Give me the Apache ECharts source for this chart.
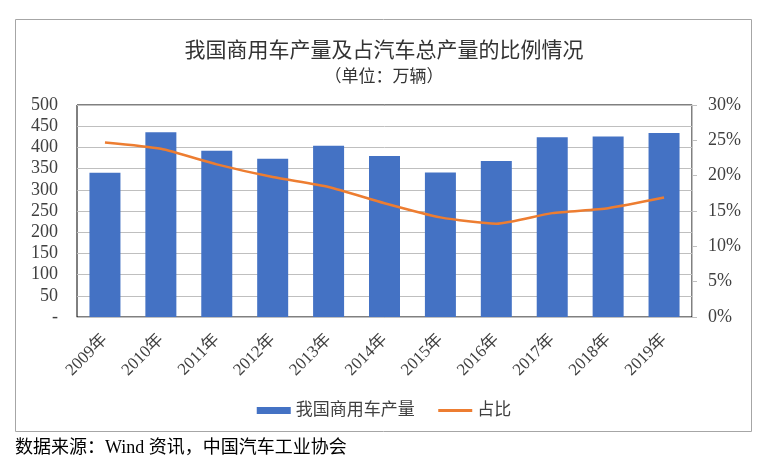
<!DOCTYPE html>
<html><head><meta charset="utf-8">
<script src="https://cdn.jsdelivr.net/npm/echarts@6/dist/echarts.min.js"></script>
<style>html,body{margin:0;padding:0;background:#fff}#c{width:768px;height:470px}</style>
</head><body><div id="c"></div>
<script>
const categories = ['2009年','2010年','2011年','2012年','2013年','2014年','2015年','2016年','2017年','2018年','2019年'];
const production = [340, 436, 392, 373, 404, 380, 341, 368, 424, 426, 434];
const share = [24.7, 23.8, 21.6, 19.8, 18.4, 16.1, 14.1, 13.2, 14.7, 15.4, 16.9];
const leftTicks = [0, 500, 50];
const rightTicks = [0, 30, 5];

const FONT = "'Liberation Serif', 'Noto Sans CJK SC', serif";
const chart = echarts.init(document.getElementById('c'));
chart.setOption({
  animation: false,
  backgroundColor: '#fff',
  title: [
    {text: '我国商用车产量及占汽车总产量的比例情况', left: 'center', top: 36,
     textStyle: {fontFamily: FONT, fontSize: 21, fontWeight: 'normal', color: '#333'}},
    {text: '（单位：万辆）', left: 'center', top: 64,
     textStyle: {fontFamily: FONT, fontSize: 17, fontWeight: 'normal', color: '#333'}}
  ],
  graphic: [
    {type: 'rect', shape: {x: 15.5, y: 19.5, width: 736, height: 412},
     style: {fill: 'none', stroke: '#a6a6a6', lineWidth: 1}, z: -1},
    {type: 'text', x: 15, y: 448,
     style: {text: '数据来源：Wind 资讯，中国汽车工业协会', fontFamily: FONT, fontSize: 18,
             fill: '#000', verticalAlign: 'middle', align: 'left'}}
  ],
  legend: {
    left: 'center', top: 397, itemWidth: 34, itemHeight: 7, itemGap: 22,
    textStyle: {fontFamily: FONT, fontSize: 17, color: '#404040'},
    data: [
      {name: '我国商用车产量', icon: 'rect'},
      {name: '占比', itemStyle: {opacity: 0}, lineStyle: {color: '#ED7D31', width: 3}}
    ]
  },
  grid: {left: 77, right: 76, top: 105, bottom: 153, show: true, borderColor: '#000', borderWidth: 1},
  xAxis: {
    type: 'category', data: categories,
    axisLine: {lineStyle: {color: '#bfbfbf', width: 1}},
    axisTick: {show: false},
    axisLabel: {rotate: 45, margin: 20, fontFamily: FONT, fontSize: 17, color: '#404040', interval: 0}
  },
  yAxis: [
    {type: 'value', min: leftTicks[0], max: leftTicks[1], interval: leftTicks[2],
     axisLine: {show: false}, axisTick: {show: false},
     splitLine: {lineStyle: {color: '#bfbfbf', width: 1}},
     axisLabel: {margin: 19, fontFamily: FONT, fontSize: 18, color: '#404040',
                 formatter: v => v === 0 ? '-' : v}},
    {type: 'value', min: rightTicks[0], max: rightTicks[1], interval: rightTicks[2], position: 'right',
     axisLine: {show: true, lineStyle: {color: '#bfbfbf', width: 1}},
     axisTick: {show: true, length: 5, lineStyle: {color: '#bfbfbf'}},
     splitLine: {show: false},
     axisLabel: {margin: 16, fontFamily: FONT, fontSize: 18, color: '#404040',
                 formatter: v => v + '%'}}
  ],
  series: [
    {name: '我国商用车产量', type: 'bar', data: production, barWidth: 31,
     itemStyle: {color: '#4472C4'}},
    {name: '占比', type: 'line', yAxisIndex: 1, data: share, smooth: 0.2,
     symbol: 'none', lineStyle: {color: '#ED7D31', width: 2.5}, itemStyle: {color: '#ED7D31'}}
  ]
});
</script></body></html>
